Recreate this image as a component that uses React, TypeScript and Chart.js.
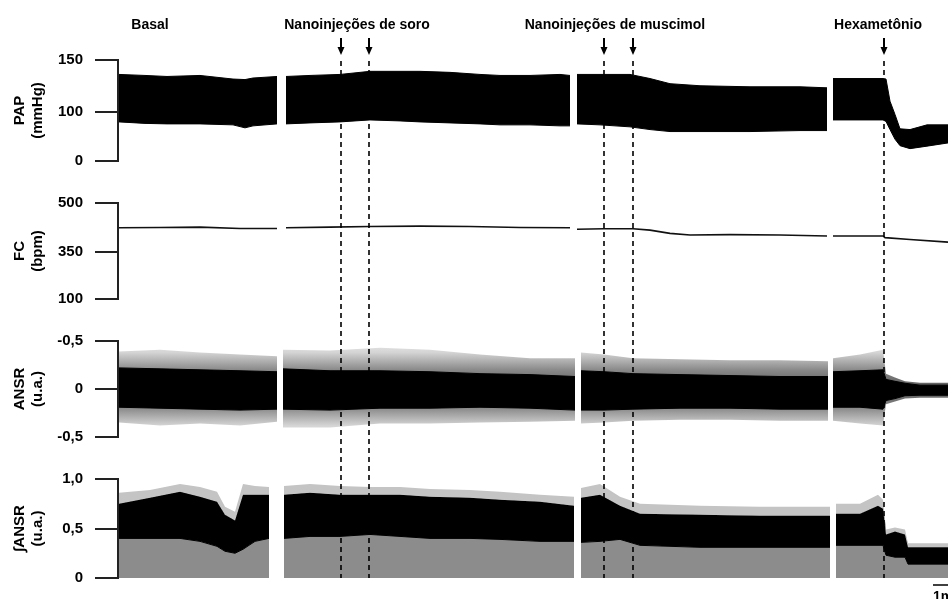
import React, { useEffect, useRef } from 'react';
import { Chart, registerables, LinearScale } from 'chart.js';

// ---------- data (time in minutes) ----------
const papTimes = [
  [0.05, 1.35, 2.45, 4.1, 5.75, 6.35, 6.75, 7.95],
  [8.4, 9.6, 11.1, 12.6, 14.1, 15.1, 16.6, 18.1, 19.1, 20.6, 22.1, 22.6],
  [22.95, 24.1, 25.6, 26.6, 27.6, 29.1, 31.6, 34.1, 35.45],
  [35.75, 37.1, 38.25, 38.4, 38.6, 38.85, 39.1, 39.6, 40.45, 41.5],
];
const papSystolic = [
  [136, 135, 134, 135, 131.5, 131, 132.5, 134],
  [134, 135, 136, 139, 139, 139, 138, 136, 135, 135, 136, 135],
  [136, 136, 136, 132, 127, 125, 124, 124, 123],
  [132, 132, 132, 131.5, 110, 94, 65, 63.5, 73, 73],
];
const papDiastolic = [
  [79, 76, 75, 75, 73, 67, 71, 75],
  [75, 77, 79, 83, 81, 79, 77, 75, 73, 73, 71, 71],
  [75, 73, 69, 63.5, 59.5, 59.5, 59.5, 61.5, 61.5],
  [83, 83, 83, 80, 63.5, 44, 31, 25, 30, 36.5],
];

const fcTimes = [
  [0.05, 2.1, 4.1, 6.1, 7.95],
  [8.4, 10.6, 12.6, 15.1, 17.6, 20.1, 22.6],
  [22.95, 24.3, 25.75, 26.6, 27.6, 28.6, 30.6, 33.1, 35.45],
  [35.75, 37.1, 38.25, 38.35, 39.6, 41.5],
];
const fcBpm = [
  [424, 425, 426, 422, 422],
  [424, 426, 428, 429, 428, 425, 424],
  [419.5, 421, 421, 417, 407, 402, 403, 402, 399],
  [399, 399, 399, 394, 388, 380],
];

const ansrTimes = [
  [0.05, 2.1, 4.1, 6.1, 7.95],
  [8.25, 10.6, 13.1, 15.6, 18.1, 20.6, 22.85],
  [23.15, 24.3, 25.75, 28.1, 30.6, 33.1, 35.5],
  [35.75, 37.1, 38.25, 38.4, 38.85, 39.35, 40.1, 41.5],
];
const ansrCoreHigh = [
  [0.22, 0.21, 0.2, 0.19, 0.18],
  [0.21, 0.19, 0.19, 0.18, 0.16, 0.15, 0.13],
  [0.19, 0.18, 0.16, 0.15, 0.14, 0.13, 0.13],
  [0.18, 0.19, 0.2, 0.1, 0.08, 0.06, 0.04, 0.04],
];
const ansrCoreLow = [
  [-0.19, -0.2, -0.21, -0.22, -0.21],
  [-0.21, -0.22, -0.2, -0.2, -0.19, -0.2, -0.22],
  [-0.22, -0.22, -0.21, -0.2, -0.2, -0.21, -0.21],
  [-0.19, -0.19, -0.21, -0.12, -0.1, -0.07, -0.065, -0.065],
];
const ansrPeakHigh = [
  [0.39, 0.41, 0.38, 0.36, 0.34],
  [0.41, 0.4, 0.43, 0.41, 0.36, 0.32, 0.32],
  [0.38, 0.36, 0.32, 0.31, 0.3, 0.3, 0.29],
  [0.32, 0.36, 0.41, 0.16, 0.12, 0.08, 0.065, 0.065],
];
const ansrPeakLow = [
  [-0.35, -0.38, -0.36, -0.38, -0.34],
  [-0.4, -0.4, -0.36, -0.36, -0.35, -0.34, -0.33],
  [-0.36, -0.35, -0.33, -0.32, -0.32, -0.33, -0.33],
  [-0.33, -0.36, -0.38, -0.16, -0.13, -0.1, -0.09, -0.09],
];

const intTimes = [
  [0.05, 1.6, 3.1, 4.1, 4.95, 5.35, 5.85, 6.25, 6.85, 7.55],
  [8.3, 9.6, 11.1, 12.6, 14.1, 15.6, 17.6, 19.1, 21.1, 22.8],
  [23.15, 24.1, 25.1, 26.1, 29.1, 32.1, 35.6],
  [35.9, 37.1, 38.0, 38.25, 38.4, 38.85, 39.35, 39.5, 40.1, 41.5],
];
const intHigh = [
  [0.75, 0.81, 0.87, 0.82, 0.77, 0.64, 0.58, 0.84, 0.84, 0.84],
  [0.84, 0.86, 0.84, 0.84, 0.84, 0.82, 0.81, 0.79, 0.77, 0.73],
  [0.81, 0.84, 0.73, 0.65, 0.64, 0.63, 0.63],
  [0.65, 0.65, 0.73, 0.7, 0.44, 0.47, 0.44, 0.31, 0.31, 0.31],
];
const intLow = [
  [0.4, 0.4, 0.4, 0.37, 0.32, 0.27, 0.25, 0.29, 0.37, 0.4],
  [0.4, 0.42, 0.42, 0.44, 0.42, 0.4, 0.4, 0.39, 0.37, 0.37],
  [0.36, 0.37, 0.39, 0.33, 0.31, 0.31, 0.31],
  [0.33, 0.33, 0.33, 0.33, 0.23, 0.21, 0.21, 0.14, 0.14, 0.14],
];
const intPeak = [
  [0.86, 0.89, 0.95, 0.92, 0.87, 0.72, 0.67, 0.95, 0.93, 0.92],
  [0.93, 0.95, 0.93, 0.92, 0.92, 0.9, 0.89, 0.87, 0.84, 0.82],
  [0.91, 0.95, 0.82, 0.75, 0.73, 0.72, 0.72],
  [0.75, 0.75, 0.84, 0.79, 0.49, 0.51, 0.49, 0.35, 0.35, 0.35],
];

const injectionTimes = [11.15, 12.55, 24.3, 25.75, 38.3];
const phaseLabels = ['Basal', 'Nanoinjeções de soro', 'Nanoinjeções de muscimol', 'Hexametônio'];
const phaseLabelTimes = [1.6, 11.95, 24.85, 38.0];

const papTicks = [0, 100, 150];
const papTickLabels = ['0', '100', '150'];
const papTickFrac = [0, 0.49, 1];
const fcTicks = [100, 350, 500];
const fcTickLabels = ['100', '350', '500'];
const fcTickFrac = [0, 0.49, 1];
const ansrTicks = [-0.5, 0, 0.5];
const ansrTickLabels = ['-0,5', '0', '-0,5'];
const intTicks = [0, 0.5, 1];
const intTickLabels = ['0', '0,5', '1,0'];

const TIME_MAX = 41.5;
const scaleBarStart = 40.75;
const scaleBarLength = 1;

// ---------- chart setup ----------
const FONT = "'Liberation Sans', Arial, Helvetica, sans-serif";
const AXIS_X = 118;
const DASH_START = 61;

function toFrac(v: number, vals: number[], fracs: number[]) {
  for (let i = 1; i < vals.length; i++) {
    if (v <= vals[i] || i === vals.length - 1) {
      return fracs[i - 1] + ((v - vals[i - 1]) * (fracs[i] - fracs[i - 1])) / (vals[i] - vals[i - 1]);
    }
  }
  return 0;
}
function fromFrac(f: number, vals: number[], fracs: number[]) {
  for (let i = 1; i < fracs.length; i++) {
    if (f <= fracs[i] || i === fracs.length - 1) {
      return vals[i - 1] + ((f - fracs[i - 1]) * (vals[i] - vals[i - 1])) / (fracs[i] - fracs[i - 1]);
    }
  }
  return 0;
}

class PiecewiseScale extends (LinearScale as any) {
  static id = 'piecewise';
  static defaults = (LinearScale as any).defaults;
  getPixelForValue(value: number) {
    const o: any = (this as any).options;
    if (value === null || value === undefined) return NaN;
    return (this as any).getPixelForDecimal(toFrac(value, o.breakValues, o.breakFracs));
  }
  getValueForPixel(pixel: number) {
    const o: any = (this as any).options;
    return fromFrac((this as any).getDecimalForPixel(pixel), o.breakValues, o.breakFracs);
  }
}

Chart.register(...registerables, PiecewiseScale as any);
Chart.defaults.font.family = FONT;

const pts = (t: number[], y: number[]) => t.map((x, i) => ({ x, y: y[i] }));
const ds = (data: any[], color: any, fill: any, width = 1, border?: string) => ({
  data,
  borderColor: border ?? color,
  backgroundColor: color,
  borderWidth: width,
  pointRadius: 0,
  tension: 0,
  fill,
});

// soft grey fringe of the nerve recording: darker near the core, paler at the peaks
const ansrFringe = (context: any) => {
  const chart = context.chart;
  const { ctx, chartArea, scales } = chart;
  if (!chartArea || !scales.y) return '#bdbdbd';
  const y = scales.y;
  const g = ctx.createLinearGradient(0, y.getPixelForValue(0.5), 0, y.getPixelForValue(-0.5));
  g.addColorStop(0, '#ececec');
  g.addColorStop(0.12, '#d4d4d4');
  g.addColorStop(0.3, '#8a8a8a');
  g.addColorStop(0.5, '#555');
  g.addColorStop(0.7, '#8a8a8a');
  g.addColorStop(0.88, '#d4d4d4');
  g.addColorStop(1, '#ececec');
  return g;
};

function yAxis(cfg: any) {
  const { tickVals, tickLabels, title, ...rest } = cfg;
  return {
    ...rest,
    afterBuildTicks: (s: any) => {
      s.ticks = tickVals.map((v: number) => ({ value: v }));
    },
    afterFit: (s: any) => {
      s.width = AXIS_X;
    },
    grid: { drawOnChartArea: false, drawTicks: true, tickLength: 23, color: '#222', lineWidth: 2 },
    border: { display: true, color: '#222', width: 2 },
    ticks: {
      padding: 12,
      color: '#000',
      font: { size: 15, weight: 'bold' },
      autoSkip: false,
      maxRotation: 0,
      callback: (_v: any, i: number) => tickLabels[i],
    },
    title: {
      display: true,
      text: title,
      color: '#000',
      font: { size: 15, weight: 'bold', lineHeight: 1.25 },
      padding: { top: 10, bottom: 0 },
    },
  };
}

function decor(canvasTop: number, lineTop: number, lineBottom: number, extra?: (c: any) => void) {
  return {
    id: 'decor',
    afterDraw(chart: any) {
      const ctx = chart.ctx;
      const x = chart.scales.x;
      ctx.save();
      ctx.strokeStyle = '#000';
      ctx.lineWidth = 1.6;
      ctx.setLineDash([5, 4]);
      ctx.lineDashOffset = (((canvasTop + lineTop - DASH_START) % 9) + 9) % 9;
      for (const t of injectionTimes) {
        const px = Math.round(x.getPixelForValue(t));
        ctx.beginPath();
        ctx.moveTo(px, lineTop);
        ctx.lineTo(px, lineBottom);
        ctx.stroke();
      }
      ctx.restore();
      if (extra) {
        ctx.save();
        extra(chart);
        ctx.restore();
      }
    },
  };
}

function baseOptions(padTop: number, padBottom: number, y: any) {
  return {
    animation: false,
    responsive: false,
    maintainAspectRatio: false,
    events: [],
    layout: { padding: { top: padTop, bottom: padBottom, left: 0, right: 0 } },
    plugins: { legend: { display: false }, tooltip: { enabled: false } },
    scales: {
      x: { type: 'linear', display: false, min: 0, max: TIME_MAX },
      y,
    },
  };
}

const PANELS = [
  { top: 0, height: 182 },
  { top: 182, height: 138 },
  { top: 320, height: 138 },
  { top: 458, height: 141 },
];

export default function App() {
  const r0 = useRef<HTMLCanvasElement>(null);
  const r1 = useRef<HTMLCanvasElement>(null);
  const r2 = useRef<HTMLCanvasElement>(null);
  const r3 = useRef<HTMLCanvasElement>(null);

  useEffect(() => {
    const charts: Chart[] = [];

    // PAP
    const papDs: any[] = [];
    papTimes.forEach((t, s) => {
      papDs.push(ds(pts(t, papSystolic[s]), '#000', '+1'));
      papDs.push(ds(pts(t, papDiastolic[s]), '#000', false));
    });
    charts.push(
      new Chart(r0.current!, {
        type: 'line',
        data: { datasets: papDs },
        options: baseOptions(60, 16, yAxis({
          type: 'piecewise', min: 0, max: 150,
          breakValues: papTicks, breakFracs: papTickFrac,
          tickVals: papTicks, tickLabels: papTickLabels, title: ['PAP', '(mmHg)'],
        })) as any,
        plugins: [
          decor(0, 61, 182, (chart) => {
            const ctx = chart.ctx;
            const x = chart.scales.x;
            ctx.fillStyle = '#000';
            ctx.font = `bold 14px ${FONT}`;
            ctx.textAlign = 'center';
            ctx.textBaseline = 'middle';
            phaseLabels.forEach((l, i) => ctx.fillText(l, x.getPixelForValue(phaseLabelTimes[i]), 25));
            ctx.strokeStyle = '#000';
            ctx.lineWidth = 2;
            for (const t of injectionTimes) {
              const px = Math.round(x.getPixelForValue(t));
              ctx.beginPath();
              ctx.moveTo(px, 38);
              ctx.lineTo(px, 49);
              ctx.stroke();
              ctx.beginPath();
              ctx.moveTo(px - 3.5, 47);
              ctx.lineTo(px + 3.5, 47);
              ctx.lineTo(px, 55);
              ctx.closePath();
              ctx.fill();
            }
          }),
        ],
      })
    );

    // FC
    const fcDs: any[] = fcTimes.map((t, s) => ds(pts(t, fcBpm[s]), '#111', false, 1.6));
    charts.push(
      new Chart(r1.current!, {
        type: 'line',
        data: { datasets: fcDs },
        options: baseOptions(15, 15, yAxis({
          type: 'piecewise', min: 100, max: 500,
          breakValues: fcTicks, breakFracs: fcTickFrac,
          tickVals: fcTicks, tickLabels: fcTickLabels, title: ['FC', '(bpm)'],
        })) as any,
        plugins: [decor(182, 0, 138)],
      })
    );

    // ANSR
    const ansrDs: any[] = [];
    ansrTimes.forEach((t, s) => {
      ansrDs.push(ds(pts(t, ansrCoreHigh[s]), '#000', '+1'));
      ansrDs.push(ds(pts(t, ansrCoreLow[s]), '#000', false));
      ansrDs.push(ds(pts(t, ansrPeakHigh[s]), ansrFringe, '+1', 0));
      ansrDs.push(ds(pts(t, ansrPeakLow[s]), ansrFringe, false, 0));
    });
    charts.push(
      new Chart(r2.current!, {
        type: 'line',
        data: { datasets: ansrDs },
        options: baseOptions(15, 15, yAxis({
          type: 'linear', min: -0.5, max: 0.5,
          tickVals: ansrTicks, tickLabels: ansrTickLabels, title: ['ANSR', '(u.a.)'],
        })) as any,
        plugins: [decor(320, 0, 138)],
      })
    );

    // ∫ANSR
    const intDs: any[] = [];
    intTimes.forEach((t, s) => {
      intDs.push(ds(pts(t, intPeak[s]), '#c4c4c4', '+1', 0));
      intDs.push(ds(pts(t, intHigh[s]), '#000', '+1'));
      intDs.push(ds(pts(t, intLow[s]), '#8c8c8c', 'origin', 1, '#000'));
    });
    charts.push(
      new Chart(r3.current!, {
        type: 'line',
        data: { datasets: intDs },
        options: baseOptions(15, 19, yAxis({
          type: 'linear', min: 0, max: 1,
          tickVals: intTicks, tickLabels: intTickLabels, title: ['∫ANSR', '(u.a.)'],
        })) as any,
        plugins: [
          decor(458, 0, 120, (chart) => {
            const ctx = chart.ctx;
            const x = chart.scales.x;
            const x0 = x.getPixelForValue(scaleBarStart);
            const x1 = x.getPixelForValue(scaleBarStart + scaleBarLength);
            ctx.strokeStyle = '#000';
            ctx.lineWidth = 1.5;
            ctx.beginPath();
            ctx.moveTo(x0, 127);
            ctx.lineTo(x1, 127);
            ctx.stroke();
            ctx.fillStyle = '#000';
            ctx.font = `bold 14px ${FONT}`;
            ctx.textAlign = 'left';
            ctx.textBaseline = 'top';
            ctx.fillText('1min', x0, 132);
          }),
        ],
      })
    );

    return () => charts.forEach((c) => c.destroy());
  }, []);

  const refs = [r0, r1, r2, r3];
  return (
    <div style={{ position: 'absolute', left: 0, top: 0, width: 948, height: 599, background: '#fff', overflow: 'hidden' }}>
      {PANELS.map((p, i) => (
        <canvas
          key={i}
          ref={refs[i]}
          width={948}
          height={p.height}
          style={{ position: 'absolute', left: 0, top: p.top, width: 948, height: p.height, display: 'block' }}
        />
      ))}
    </div>
  );
}
